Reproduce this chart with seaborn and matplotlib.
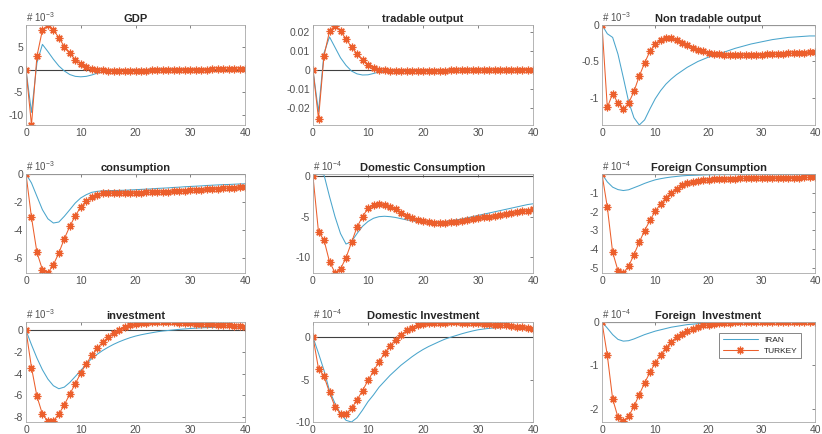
import numpy as np
import matplotlib
matplotlib.use("Agg")
import matplotlib.pyplot as plt
import seaborn as sns

# impulse responses, horizon 0..40 (values in units of the panel's exponent)
t = list(range(41))

gdp_iran = [0, -9.5, 1.5, 5.6, 4.0, 2.3, 0.8, -0.3, -1.1, -1.5, -1.6, -1.5, -1.2, -0.8, -0.5, -0.3, -0.15, -0.05,
            0.0, 0.02, 0.03, 0.03, 0.03, 0.03, 0.02, 0.02, 0.02, 0.01, 0.01, 0.01, 0.01,
            0, 0, 0, 0, 0, 0, 0, 0, 0, 0]
gdp_turkey = [0, -12.3, 3.0, 8.8, 9.85, 8.8, 7.1, 5.1, 3.6, 2.2, 1.3, 0.6, 0.2, 0.0,
              -0.15, -0.25, -0.3, -0.3, -0.3, -0.3, -0.28, -0.25, -0.22, -0.2, -0.17, -0.14, -0.11, -0.08, -0.06, -0.04, -0.02,
              0.0, 0.01, 0.02, 0.03, 0.03, 0.04, 0.04, 0.05, 0.05, 0.05]

trad_iran = [0, -0.022, 0.009, 0.0175, 0.012, 0.0065, 0.0025, -0.0005, -0.002, -0.0026, -0.0025, -0.0018, -0.001,
             -0.0005, -0.0002] + [0.0] * 26
trad_turkey = [0, -0.0257, 0.0075, 0.0205, 0.0235, 0.0207, 0.0163, 0.0122, 0.0085, 0.0053, 0.0028, 0.0012, 0.0003,
               -0.0002, -0.0004, -0.0005, -0.0005, -0.0005, -0.0005, -0.0005, -0.0005, -0.0004, -0.0004, -0.0003,
               -0.0003, -0.0002, -0.0002, -0.0001, -0.0001, 0.0, 0.0, 0.0001, 0.0001, 0.0001, 0.0002, 0.0002, 0.0002,
               0.0002, 0.0003, 0.0003, 0.0003]

nontrad_iran = [0, -0.12, -0.17, -0.40, -0.72, -1.05, -1.27, -1.37, -1.30, -1.15,
                -1.01, -0.90, -0.81, -0.74, -0.68, -0.63, -0.58, -0.54, -0.50, -0.47,
                -0.44, -0.415, -0.39, -0.37, -0.345, -0.32, -0.30, -0.28, -0.26, -0.245,
                -0.23, -0.215, -0.20, -0.19, -0.18, -0.17, -0.165, -0.16, -0.155, -0.15, -0.15]
nontrad_turkey = [0, -1.13, -0.94, -1.07, -1.15, -1.07, -0.91, -0.70, -0.52, -0.36,
                  -0.26, -0.21, -0.175, -0.175, -0.21, -0.245, -0.28, -0.31, -0.34, -0.36,
                  -0.385, -0.395, -0.40, -0.405, -0.41, -0.41, -0.41, -0.41, -0.41, -0.405,
                  -0.405, -0.40, -0.40, -0.395, -0.395, -0.39, -0.385, -0.38, -0.38, -0.375, -0.37]

cons_iran = [0, -0.64, -1.6, -2.55, -3.2, -3.5, -3.43, -3.02, -2.55, -2.07,
             -1.71, -1.48, -1.31, -1.24, -1.2, -1.19, -1.18, -1.17, -1.16, -1.14,
             -1.12, -1.1, -1.08, -1.06, -1.03, -1.01, -0.99, -0.96, -0.94, -0.91,
             -0.89, -0.87, -0.85, -0.82, -0.80, -0.78, -0.76, -0.75, -0.73, -0.71, -0.70]
cons_turkey = [0, -3.1, -5.6, -6.83, -7.07, -6.48, -5.64, -4.62, -3.74, -2.98,
               -2.36, -1.95, -1.67, -1.48, -1.38, -1.36, -1.35, -1.35, -1.35, -1.35,
               -1.34, -1.33, -1.32, -1.31, -1.29, -1.27, -1.25, -1.23, -1.21, -1.18,
               -1.16, -1.14, -1.11, -1.09, -1.07, -1.04, -1.02, -1.0, -0.98, -0.95, -0.93]

dcons_iran = [0, 0.3, 0.2, -2.5, -5.0, -7.1, -8.4, -8.1, -7.1, -6.2,
              -5.6, -5.2, -5.0, -4.95, -5.0, -5.1, -5.25, -5.4, -5.5, -5.6,
              -5.7, -5.75, -5.75, -5.7, -5.6, -5.5, -5.4, -5.3, -5.15, -5.0,
              -4.85, -4.7, -4.55, -4.4, -4.25, -4.1, -3.95, -3.8, -3.65, -3.5, -3.4]
dcons_turkey = [0, -6.9, -7.9, -10.6, -11.95, -11.5, -10.1, -8.2, -6.3, -5.0,
                -3.96, -3.5, -3.4, -3.5, -3.75, -4.1, -4.5, -4.9, -5.2, -5.4,
                -5.6, -5.7, -5.8, -5.8, -5.78, -5.72, -5.65, -5.55, -5.45, -5.35,
                -5.2, -5.1, -5.0, -4.9, -4.8, -4.67, -4.55, -4.45, -4.35, -4.25, -4.1]

fcons_iran = [0, -0.42, -0.7, -0.83, -0.88, -0.84, -0.73, -0.62, -0.5, -0.4,
              -0.31, -0.25, -0.2, -0.16, -0.13, -0.1, -0.08, -0.07, -0.06, -0.05,
              -0.04, -0.035, -0.03, -0.03, -0.025, -0.02, -0.02, -0.02, -0.015, -0.015,
              -0.01, -0.01, -0.01, -0.01, -0.01, -0.005, -0.005, -0.005, -0.005, -0.005, 0.0]
fcons_turkey = [0, -1.77, -4.17, -5.14, -5.27, -4.91, -4.29, -3.63, -3.01, -2.47,
                -1.98, -1.59, -1.27, -1.0, -0.79, -0.61, -0.50, -0.43, -0.38, -0.34,
                -0.31, -0.29, -0.27, -0.26, -0.25, -0.24, -0.235, -0.23, -0.225, -0.22,
                -0.215, -0.21, -0.205, -0.2, -0.2, -0.195, -0.19, -0.19, -0.185, -0.18, -0.18]

inv_iran = [0, -1.32, -2.55, -3.63, -4.49, -5.1, -5.38, -5.23, -4.8, -4.25,
            -3.7, -3.1, -2.6, -2.2, -1.85, -1.55, -1.28, -1.05, -0.85, -0.67,
            -0.52, -0.4, -0.3, -0.21, -0.12, -0.05, 0.0, 0.05, 0.1, 0.14,
            0.18, 0.21, 0.24, 0.26, 0.28, 0.29, 0.3, 0.3, 0.31, 0.31, 0.31]
inv_turkey = [0, -3.42, -6.09, -7.72, -8.4, -8.34, -7.72, -6.86, -5.88, -4.92,
              -3.94, -3.08, -2.31, -1.63, -1.08, -0.65, -0.28, 0.03, 0.28, 0.46,
              0.58, 0.65, 0.70, 0.74, 0.76, 0.76, 0.75, 0.74, 0.72, 0.70,
              0.67, 0.64, 0.61, 0.58, 0.55, 0.52, 0.49, 0.46, 0.42, 0.38, 0.34]

dinv_iran = [0, -1.9, -3.9, -6.3, -7.8, -9.0, -9.8, -10.0, -9.5, -8.6,
             -7.6, -6.8, -5.9, -5.2, -4.5, -3.9, -3.3, -2.8, -2.3, -1.85,
             -1.45, -1.1, -0.8, -0.5, -0.22, 0.0, 0.2, 0.4, 0.58, 0.74,
             0.88, 0.97, 1.05, 1.1, 1.15, 1.18, 1.18, 1.16, 1.12, 1.07, 1.0]
dinv_turkey = [0, -3.7, -4.6, -6.5, -8.2, -9.0, -9.0, -8.4, -7.4, -6.3,
               -5.1, -4.0, -2.9, -1.9, -1.0, -0.3, 0.3, 0.8, 1.15, 1.4,
               1.55, 1.65, 1.7, 1.72, 1.74, 1.75, 1.75, 1.74, 1.72, 1.68,
               1.64, 1.6, 1.55, 1.5, 1.45, 1.4, 1.33, 1.26, 1.18, 1.1, 1.0]

finv_iran = [0, -0.14, -0.29, -0.40, -0.44, -0.43, -0.39, -0.34, -0.29, -0.25,
             -0.21, -0.18, -0.15, -0.12, -0.10, -0.08, -0.06, -0.05, -0.04, -0.03,
             -0.02, -0.015, -0.01, -0.01, -0.005, -0.005] + [0.0] * 15
finv_turkey = [0, -0.77, -1.77, -2.19, -2.28, -2.17, -1.94, -1.67, -1.40, -1.16,
               -0.94, -0.75, -0.60, -0.46, -0.35, -0.27, -0.20, -0.15, -0.11, -0.08,
               -0.06, -0.04, -0.03, -0.02, -0.015, -0.01, -0.01, -0.005, -0.005, 0.0] + [0.0] * 11

titles = ["GDP", "tradable output", "Non tradable output",
          "consumption", "Domestic Consumption", "Foreign Consumption",
          "investment", "Domestic Investment", "Foreign  Investment"]
exponents = ["-3", None, "-3", "-3", "-4", "-4", "-3", "-4", "-4"]
iran = [gdp_iran, trad_iran, nontrad_iran, cons_iran, dcons_iran, fcons_iran, inv_iran, dinv_iran, finv_iran]
turkey = [gdp_turkey, trad_turkey, nontrad_turkey, cons_turkey, dcons_turkey, fcons_turkey,
          inv_turkey, dinv_turkey, finv_turkey]
ylims = [(-12.3, 9.9), (-0.029, 0.0238), (-1.37, 0), (-7.07, 0), (-12.0, 0.3), (-5.27, 0),
         (-8.45, 0.78), (-10.0, 1.8), (-2.3, 0)]
yticks = [[-10, -5, 0, 5], [-0.02, -0.01, 0, 0.01, 0.02], [-1, -0.5, 0], [-6, -4, -2, 0], [-10, -5, 0],
          [-5, -4, -3, -2, -1], [-8, -6, -4, -2, 0], [-10, -5, 0], [-2, -1, 0]]

sns.set_theme(style="white")
plt.rcParams["font.family"] = ["Liberation Sans", "DejaVu Sans"]
plt.rcParams["mathtext.fontset"] = "custom"
plt.rcParams["mathtext.rm"] = "Liberation Sans"

W, H = 822, 434
fig = plt.figure(figsize=(W / 100, H / 100), dpi=100)

col_x = [(26, 245), (313, 533), (602, 815)]
row_y = [(25, 125), (174, 273), (322, 422)]

blue = "#4aa5cc"
orange = "#ec5f2c"
asterisk = (8, 2, 0)

for i in range(9):
    r, c = divmod(i, 3)
    x0, x1 = col_x[c]
    y0, y1 = row_y[r]
    ax = fig.add_axes([x0 / W, 1 - y1 / H, (x1 - x0) / W, (y1 - y0) / H])
    ax.axhline(0, color="#404040", lw=0.8, zorder=1)
    sns.lineplot(x=t, y=iran[i], ax=ax, color=blue, lw=0.75, label="IRAN" if i == 8 else None)
    sns.lineplot(x=t, y=turkey[i], ax=ax, color=orange, lw=0.75, marker=asterisk, markersize=5.5,
                 markeredgewidth=0.9, markeredgecolor=orange, label="TURKEY" if i == 8 else None)
    ax.set_xlim(0, 40)
    ax.set_ylim(*ylims[i])
    ax.set_xticks([0, 10, 20, 30, 40])
    ax.set_yticks(yticks[i])
    if i == 1:
        ax.set_yticklabels(["-0.02", "-0.01", "0", "0.01", "0.02"])
    else:
        ax.set_yticklabels([f"{v:g}" for v in yticks[i]])
    ax.tick_params(direction="in", length=2.5, width=0.5, top=True, right=True,
                   labelsize=7.5, colors="#505050", pad=2)
    for s in ax.spines.values():
        s.set_color("#a8a8a8")
        s.set_linewidth(0.6)
    ax.set_title(titles[i], fontsize=8, fontweight="bold", pad=2.5)
    if exponents[i]:
        ax.text(0.0, 1.01, "# 10$^{" + exponents[i] + "}$", transform=ax.transAxes,
                fontsize=7, color="#505050", ha="left", va="bottom")
    if i == 8:
        leg = ax.legend(loc="upper right", bbox_to_anchor=(0.955, 0.93), fontsize=6,
                        frameon=True, fancybox=False, handlelength=4.2, borderpad=0.4,
                        labelspacing=0.3, handletextpad=0.8)
        leg.get_frame().set_edgecolor("#505050")
        leg.get_frame().set_linewidth(0.6)
    else:
        if ax.get_legend():
            ax.get_legend().remove()

fig.savefig("out.png", dpi=100)
